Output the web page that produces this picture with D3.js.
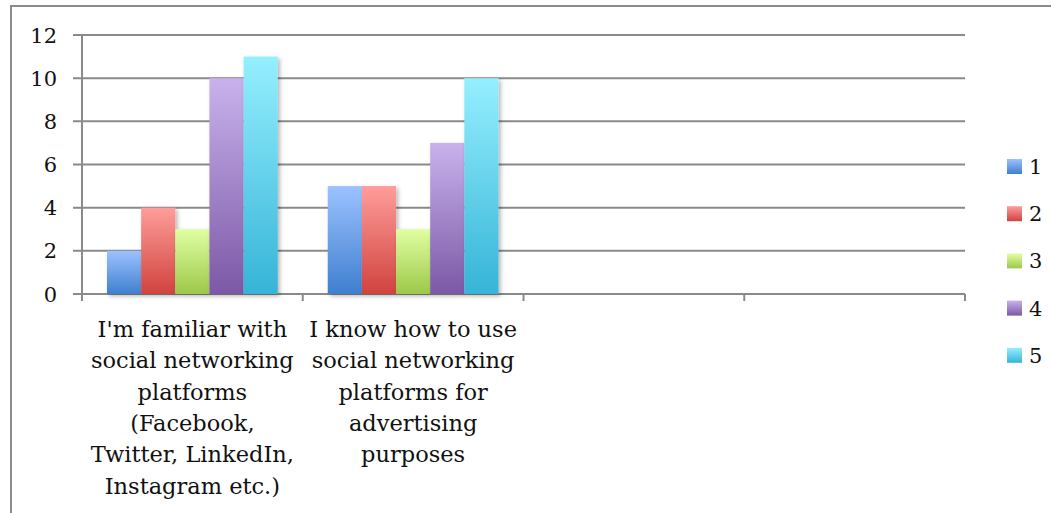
<!DOCTYPE html>
<html>
<head>
<meta charset="utf-8">
<script src="https://cdn.jsdelivr.net/npm/d3@7"></script>
<style>
  body { margin: 0; background: #fff; }
  svg { display: block; }
  text { font-family: "DejaVu Serif", "Liberation Serif", serif; fill: #111; }
</style>
</head>
<body>
<script>
// categories (the last two slots are empty in the source chart)
var categories = ["c1", "c2", "c3", "c4"];
var categoryLabels = [
    ["I'm familiar with", "social networking", "platforms", "(Facebook,",
     "Twitter, LinkedIn,", "Instagram etc.)"],
    ["I know how to use", "social networking", "platforms for",
     "advertising", "purposes"],
    [],
    []
];
var seriesNames = ["1", "2", "3", "4", "5"];
var series1 = [2, 5, null, null];
var series2 = [4, 5, null, null];
var series3 = [3, 3, null, null];
var series4 = [10, 7, null, null];
var series5 = [11, 10, null, null];
var yTicks = [0, 2, 4, 6, 8, 10, 12];

// gradient stops per series: top (light) -> bottom (dark)
var colors = [
    ["#9cc2ff", "#3f7fcf"],
    ["#ff9d9a", "#d0433e"],
    ["#e0ffa2", "#9dc84a"],
    ["#c8b2ec", "#7c58a6"],
    ["#95efff", "#36b4d7"]
];

var allSeries = [series1, series2, series3, series4, series5];

var W = 1051, H = 513;
var plot = {left: 82, right: 965, top: 35, bottom: 294};

var svg = d3.select("body").append("svg")
    .attr("width", W)
    .attr("height", H);

var defs = svg.append("defs");
colors.forEach(function(c, i) {
    var g = defs.append("linearGradient")
        .attr("id", "grad" + i)
        .attr("x1", 0).attr("y1", 0).attr("x2", 0).attr("y2", 1);
    g.append("stop").attr("offset", "0%").attr("stop-color", c[0]);
    g.append("stop").attr("offset", "100%").attr("stop-color", c[1]);
});

var shadow = defs.append("filter")
    .attr("id", "shadow")
    .attr("x", "-20%").attr("y", "-5%")
    .attr("width", "150%").attr("height", "120%");
shadow.append("feDropShadow")
    .attr("dx", 2).attr("dy", 2)
    .attr("stdDeviation", 2)
    .attr("flood-color", "#000")
    .attr("flood-opacity", 0.3);

// chart frame
svg.append("rect")
    .attr("x", 11).attr("y", 6)
    .attr("width", W + 20).attr("height", H + 20)
    .style("fill", "none")
    .style("stroke", "#8a8a8a")
    .style("stroke-width", 2);

var x0 = d3.scaleBand()
    .domain(categories)
    .range([plot.left, plot.right]);

var bw = x0.bandwidth();
var x1 = d3.scaleBand()
    .domain(seriesNames)
    .range([25, bw - 25]);

var y = d3.scaleLinear()
    .domain([0, 12])
    .range([plot.bottom, plot.top]);

// gridlines
svg.append("g")
    .selectAll("line")
    .data(yTicks)
    .enter()
    .append("line")
    .attr("x1", plot.left - 9)
    .attr("x2", plot.right)
    .attr("y1", function(d) { return y(d); })
    .attr("y2", function(d) { return y(d); })
    .style("stroke", "#8a8a8a")
    .style("stroke-width", 2);

// y axis line
svg.append("line")
    .attr("x1", plot.left).attr("x2", plot.left)
    .attr("y1", y(12)).attr("y2", y(0) + 7)
    .style("stroke", "#8a8a8a")
    .style("stroke-width", 2);

// y tick labels
svg.append("g")
    .selectAll("text")
    .data(yTicks)
    .enter()
    .append("text")
    .attr("x", 57)
    .attr("y", function(d) { return y(d); })
    .attr("dy", "0.36em")
    .attr("text-anchor", "end")
    .style("font-size", "21px")
    .text(function(d) { return d; });

// x axis category ticks
var xTickPos = categories.map(function(c) { return x0(c); })
    .concat([x0(categories[categories.length - 1]) + bw]);
svg.append("g")
    .selectAll("line")
    .data(xTickPos)
    .enter()
    .append("line")
    .attr("x1", function(d) { return d; })
    .attr("x2", function(d) { return d; })
    .attr("y1", y(0))
    .attr("y2", y(0) + 7)
    .style("stroke", "#8a8a8a")
    .style("stroke-width", 2);

// bars
allSeries.forEach(function(vals, si) {
    svg.append("g")
        .selectAll("rect")
        .data(vals)
        .enter()
        .filter(function(d) { return d != null; })
        .append("rect")
        .attr("x", function(d, i) { return x0(categories[i]) + x1(seriesNames[si]); })
        .attr("y", function(d) { return y(d); })
        .attr("width", x1.bandwidth())
        .attr("height", function(d) { return y(0) - y(d); })
        .style("fill", "url(#grad" + si + ")")
        .attr("filter", "url(#shadow)");
});

// category labels
categories.forEach(function(c, i) {
    var t = svg.append("text")
        .attr("x", x0(c) + bw / 2)
        .attr("y", 337)
        .attr("text-anchor", "middle")
        .style("font-size", "22.5px");
    categoryLabels[i].forEach(function(line, j) {
        t.append("tspan")
            .attr("x", x0(c) + bw / 2)
            .attr("y", 337 + j * 31.3)
            .text(line);
    });
});

// legend
var legend = svg.append("g")
    .selectAll("g")
    .data(seriesNames)
    .enter()
    .append("g")
    .attr("transform", function(d, i) {
        return "translate(1007," + (159 + i * 47.2) + ")";
    });

legend.append("rect")
    .attr("width", 15)
    .attr("height", 15)
    .style("fill", function(d, i) { return "url(#grad" + i + ")"; });

legend.append("text")
    .attr("x", 22)
    .attr("y", 7.5)
    .attr("dy", "0.36em")
    .style("font-size", "21px")
    .text(function(d) { return d; });
</script>
</body>
</html>
